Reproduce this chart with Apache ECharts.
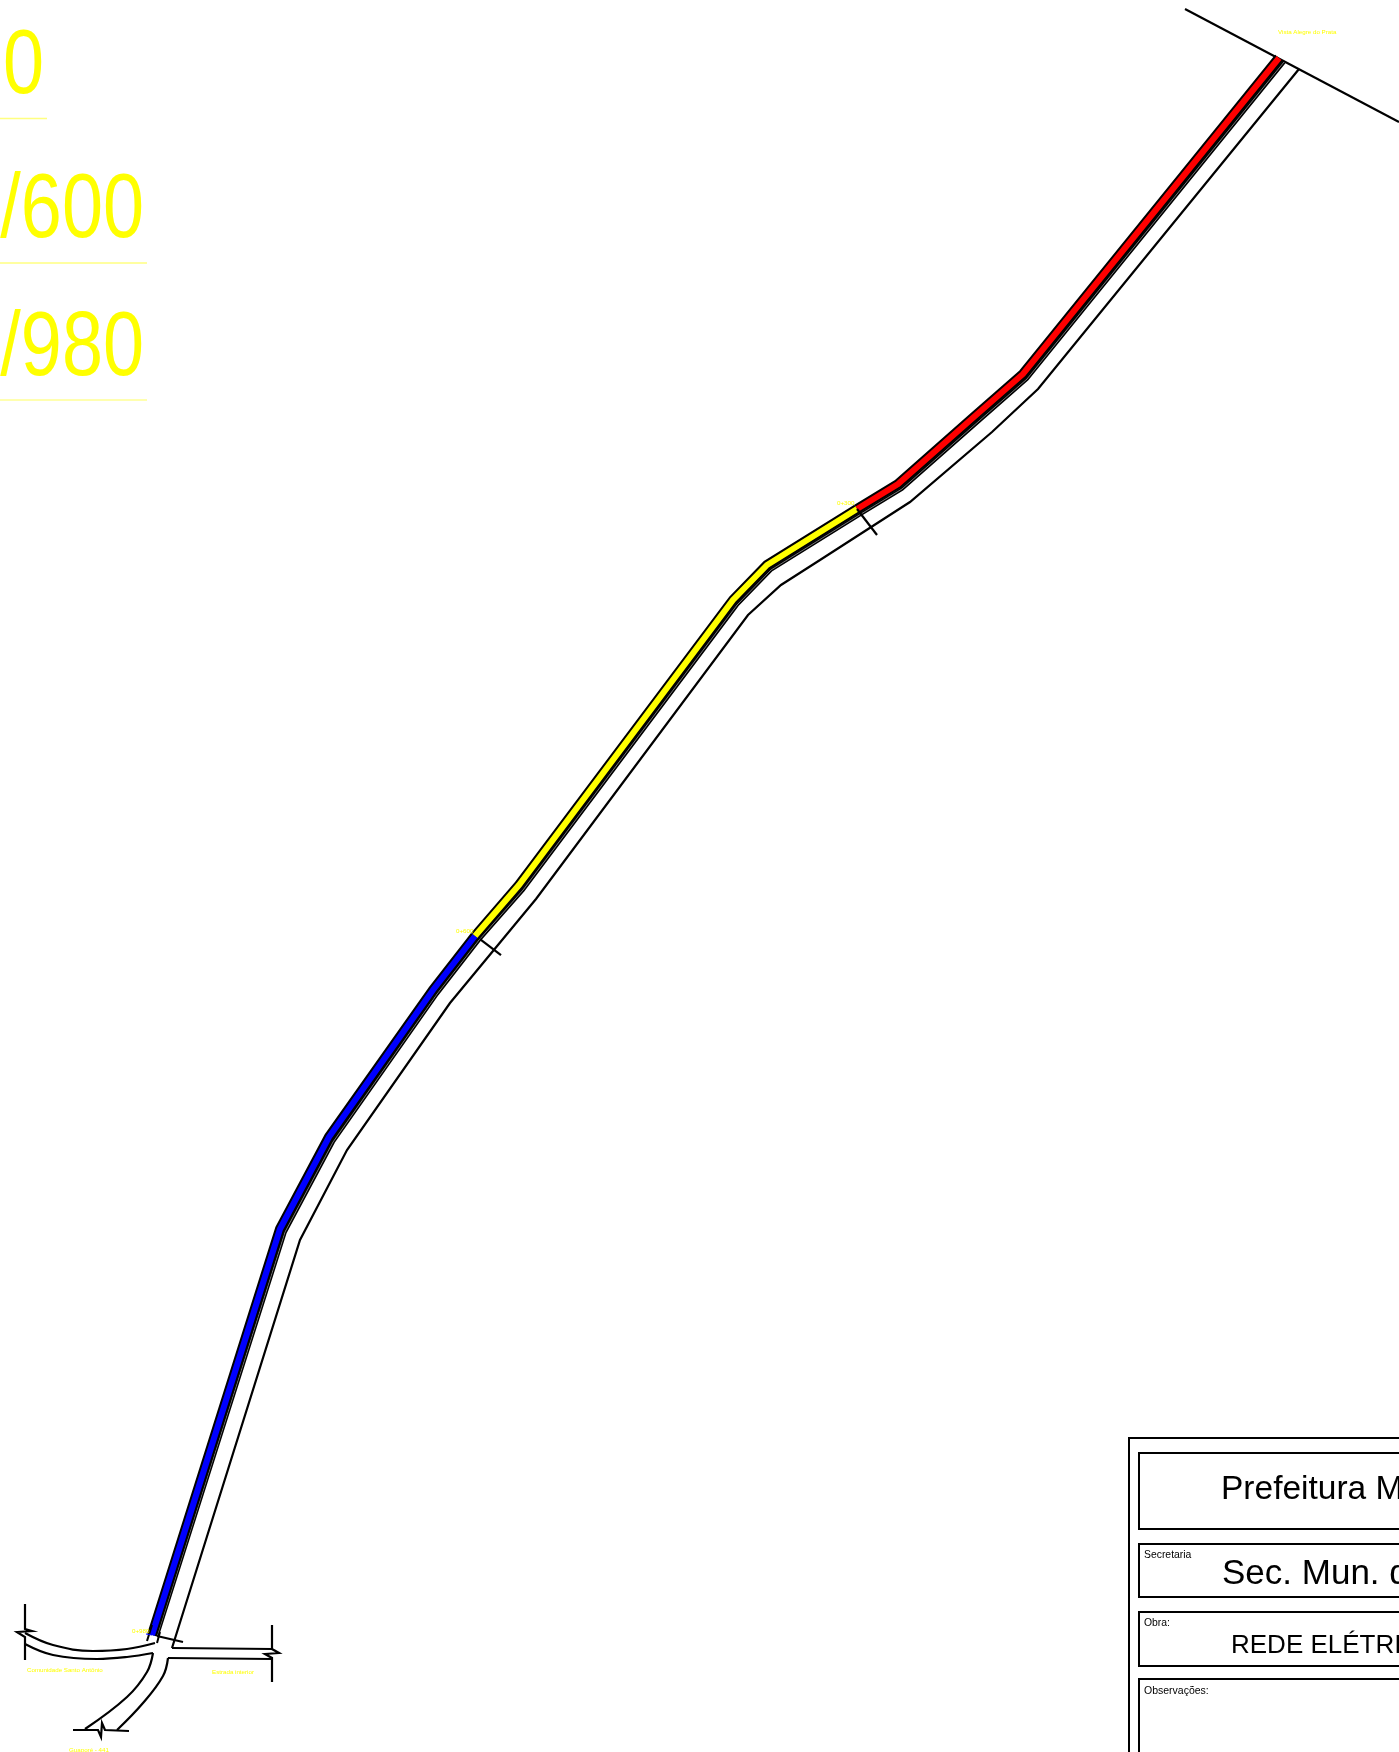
<!DOCTYPE html>
<html><head><meta charset="utf-8">
<style>html,body{margin:0;padding:0;background:#fff;overflow:hidden}#c{width:1399px;height:1752px}</style>
<script src="https://cdn.jsdelivr.net/npm/echarts@6/dist/echarts.min.js"></script>
</head><body><div id="c"></div>
<script>
// Route sections: centreline of the coloured band
const redSection = [[1279,58],[1023,374],[975,416],[898,484],[857,509]];
const yellowSection = [[857,509],[767,565],[733,600],[519,885],[475,936]];
const blueSection = [[475,936],[433,990],[329,1137],[280,1229],[152,1635]];
const bandEdge = [[1284,62],[1027,379],[979,421],[902,489],[861,514],[771,570],[737,605],[523,890],[479,940],[437,994],[333,1142],[285,1232],[157,1636]];
const roadEdge = [[1299,69],[1038,389],[992,432],[910,502],[820,560],[781,585],[748,615],[536,899],[450,1003],[347,1150],[300,1240],[172,1648]];
const crossRoad = [[1185,9],[1399,122]];
const tick980 = [[157,1636],[183,1642]];
const tick600 = [[480,939],[501,955]];
const tick300 = [[857,509],[877,535]];
const bandStub = [[152,1625],[147,1641]];
const bandStub2 = [[160,1632],[157,1643]];
const blueStub = [[146,1634],[152,1635]];
// Junction roads
const westUpper = [[25,1633],[53,1645],[93,1651],[127,1649],[155,1643]];
const westLower = [[25,1644],[53,1655],[97,1659],[127,1657],[153,1653]];
const westBreak = [[25,1604],[25,1629],[32,1631],[17,1632],[25,1637],[25,1660]];
const eastUpper = [[172,1648],[272,1649]];
const eastLower = [[168,1658],[272,1659]];
const eastBreak = [[272,1625],[272,1649],[279,1653],[265,1654],[272,1658],[272,1682]];
const southLeft = [[153,1653],[147,1672],[127,1697],[85,1729]];
const southRight = [[168,1658],[163,1676],[143,1703],[117,1730]];
const southBreak = [[73,1730],[98,1730],[101,1737],[102,1723],[105,1730],[129,1731]];
// Title block
const outerBox = [[1399,1438],[1129,1438],[1129,1752]];
const boxHeader = [[1399,1453],[1139,1453],[1139,1529],[1399,1529]];
const boxSecretaria = [[1399,1544],[1139,1544],[1139,1597],[1399,1597]];
const boxObra = [[1399,1612],[1139,1612],[1139,1666],[1399,1666]];
const boxObs = [[1399,1679],[1139,1679],[1139,1752]];
// Legend rules at the top left
const rule1 = [[0,118.5],[47,118.5]];
const rule2 = [[0,263],[147,263]];
const rule3 = [[0,400],[147,400]];
// Texts
const bigTexts = ['0','/600','/980'];
const bigAnchors = [[44,68.5],[144,212],[144,350]];
const smallTexts = ['Vista Alegre do Prata','0+300','0+600','0+980','Comunidade Santo Antônio','Estrada interior','Guaporé - 441'];
const smallAnchors = [[1278,32],[837,503],[456,931],[132,1631],[27,1670],[212,1672],[69,1750]];
const titleTexts = ['Prefeitura Municipal','Sec. Mun. de Obras','REDE ELÉTRICA','Secretaria','Obra:','Observações:'];
const titleAnchors = [[1221,1490],[1222,1574],[1231,1646],[1144,1555],[1144,1623],[1144,1691]];
const titleSizes = [33.5,35,26,10.4,10.4,10.5];

function line(data,color,width,smooth){
  return {type:'line',data,showSymbol:false,silent:true,animation:false,clip:true,smooth:smooth||false,
    lineStyle:{color,width,join:'miter',cap:'butt'},itemStyle:{color},z:2};
}
function texts(anchors,strs,styleFn){
  return {type:'custom',data:anchors,silent:true,animation:false,clip:false,z:5,
    encode:{x:0,y:1},
    renderItem(p,api){
      const pt=api.coord([api.value(0),api.value(1)]);
      return Object.assign({type:'text',x:pt[0],y:pt[1]},styleFn(strs[p.dataIndex],p.dataIndex));
    }};
}
const thin=2, mid=2.2;
const series=[
  line(crossRoad,'#000',mid),
  line(roadEdge,'#000',mid),
  line(bandEdge,'#000',3.8),
  line(bandEdge,'#777',1),
  line(redSection,'#000',10),line(yellowSection,'#000',10),line(blueSection,'#000',10),
  line(redSection,'#ff0000',6),line(yellowSection,'#ffff00',6),line(blueSection,'#0000ff',6),
  line(tick980,'#000',mid),line(tick600,'#000',mid),line(tick300,'#000',mid),
  line(bandStub,'#000',thin),line(bandStub2,'#000',thin),line(blueStub,'#0000ff',1),
  ...[westBreak,eastUpper,eastLower,eastBreak,southBreak].map(d=>line(d,'#000',mid)),
  ...[westUpper,westLower,southLeft,southRight].map(d=>line(d,'#000',mid,0.4)),
  ...[outerBox,boxHeader,boxSecretaria,boxObra,boxObs].map(d=>line(d,'#000',thin)),
  line(rule1,'#ffff80',1.5),line(rule2,'#ffff80',1.5),line(rule3,'#ffff60',1.2),
  texts(bigAnchors,bigTexts,t=>({scaleX:0.82,style:{text:t,fontSize:90,fontFamily:'Liberation Sans',fill:'#ffff00',stroke:'#fff',lineWidth:3,align:'right',verticalAlign:'middle'}})),
  texts(smallAnchors,smallTexts,t=>({style:{text:t,fontSize:6.2,fontFamily:'Liberation Sans',fill:'#ffff00',align:'left',verticalAlign:'middle'}})),
  texts(titleAnchors,titleTexts,(t,i)=>({style:{text:t,fontSize:titleSizes[i],fontFamily:'Liberation Sans',fill:'#000',align:'left',verticalAlign:'middle'}}))
];
const chart=echarts.init(document.getElementById('c'),null,{renderer:'canvas'});
chart.setOption({
  backgroundColor:'#fff',animation:false,
  grid:{left:0,right:0,top:0,bottom:0},
  xAxis:{type:'value',min:0,max:1399,show:false},
  yAxis:{type:'value',min:0,max:1752,inverse:true,show:false},
  series
});
</script></body></html>
